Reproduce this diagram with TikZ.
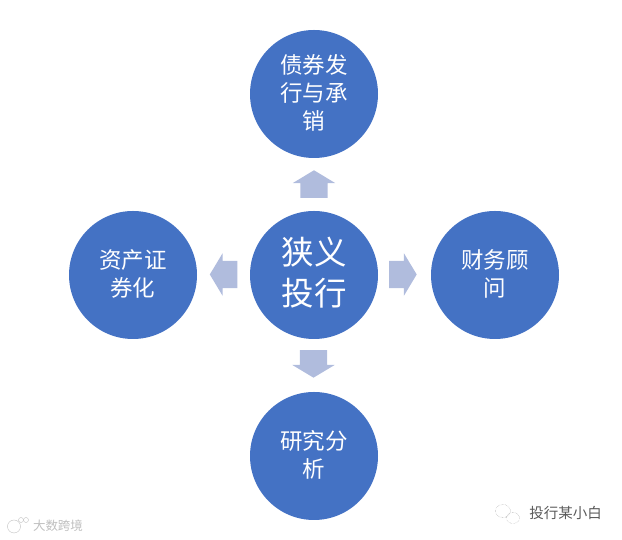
\documentclass[tikz,border=0pt]{standalone}
\usepackage{fontspec}
\newfontfamily\cjk{Noto Sans CJK SC}
\usetikzlibrary{shapes.arrows, shapes.geometric}
\definecolor{circleblue}{HTML}{4472C4}
\definecolor{arrowblue}{HTML}{B0BCDD}
\tikzset{
	topic/.style={circle, fill=circleblue, text=white, inner sep=0pt, minimum size=128pt, align=center, text depth=4.5pt, font=\cjk\fontsize{22.5}{28}\selectfont},
	hub/.style={topic, text depth=7pt, font=\cjk\fontsize{32.5}{41}\selectfont},
	dirarrow/.style={single arrow, fill=arrowblue, inner xsep=0pt, inner ysep=13.5pt, minimum height=27.5pt, single arrow head extend=7.5pt, single arrow tip angle=118, anchor=tail}
}
\begin{document}
\begin{tikzpicture}[x=1pt, y=1pt]
	\useasboundingbox (0,0) rectangle (622,540);
	\node[hub] (hub) at (314,265) {狭义\\投行};
	\node[topic] (bond) at (314,446) {债券发\\行与承\\销};
	\node[topic] (abs) at (133,265) {资产证\\券化};
	\node[topic] (fa) at (495,265) {财务顾\\问};
	\node[topic] (research) at (314,84) {研究分\\析};
	
	\node[dirarrow, rotate=90] (upArrow) at (314,342) {};
	\node[dirarrow, rotate=180] (leftArrow) at (237.5,265.5) {};
	\node[dirarrow] (rightArrow) at (389,265.5) {};
	\node[dirarrow, rotate=-90] (downArrow) at (313.5,190) {};
	
	% watermarks
	\node[text=black!65, font=\cjk\fontsize{14.5}{16}\selectfont, inner sep=0pt] (account) at (565.5,27) {投行某小白};
	\node[draw=black!40, densely dotted, ellipse, minimum width=15pt, minimum height=13pt, inner sep=0pt] (bubbleA) at (503,29) {};
	\node[draw=black!40, densely dotted, ellipse, minimum width=13pt, minimum height=11pt, inner sep=0pt] (bubbleB) at (513,22) {};
	\node[text=black!25, font=\cjk\fontsize{12.5}{14}\selectfont, inner sep=0pt] (source) at (58,14) {大数跨境};
	\node[draw=black!25, circle, minimum size=13pt, inner sep=0pt] (logoA) at (14,13.5) {};
	\node[draw=black!25, circle, minimum size=5pt, inner sep=0pt] (logoB) at (21,20) {};
	\node[draw=black!25, circle, minimum size=5pt, inner sep=0pt] (logoC) at (26,20) {};
\end{tikzpicture}
\end{document}
